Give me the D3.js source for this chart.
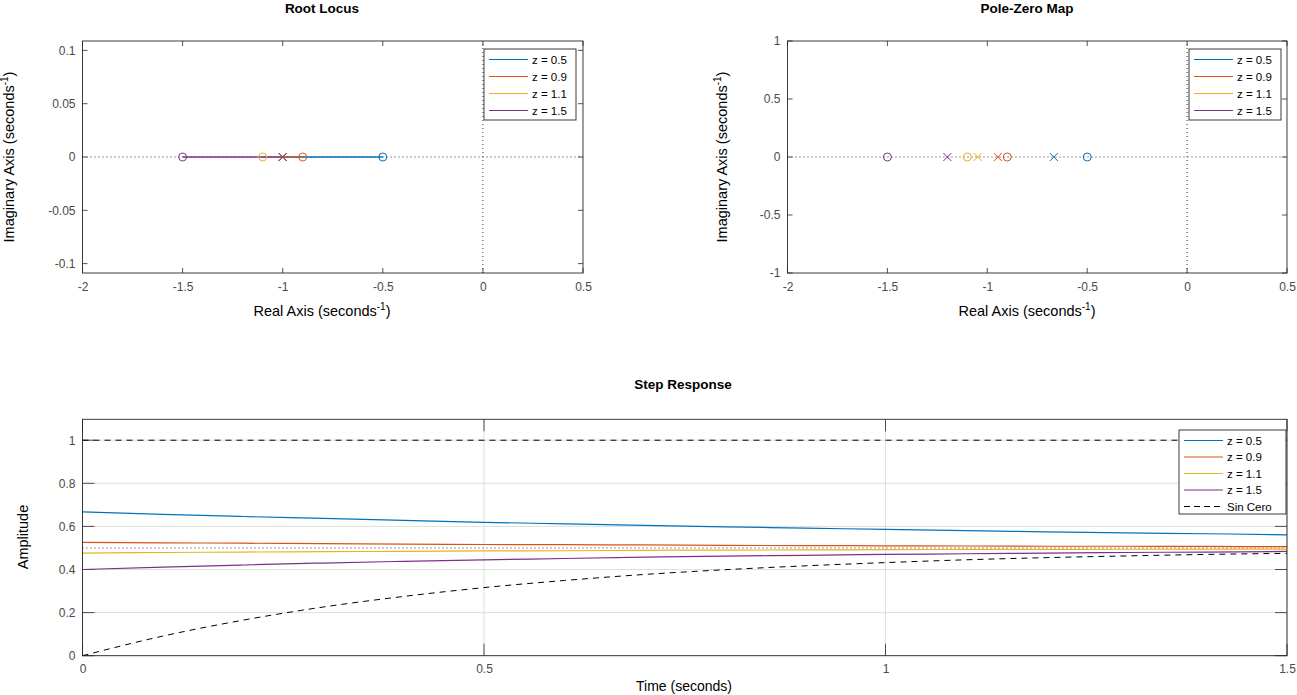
<!DOCTYPE html>
<html>
<head>
<meta charset="utf-8">
<script src="https://cdn.jsdelivr.net/npm/d3@7"></script>
<style>
body{margin:0;background:#fff;}
svg{display:block;font-family:"Liberation Sans",Arial,Helvetica,sans-serif;}
</style>
</head>
<body>
<svg id="c" width="1297" height="695"></svg>
<script>
// ---------------- DATA ----------------
const seriesNames = ["z = 0.5","z = 0.9","z = 1.1","z = 1.5"];
const colors = ["#0072BD","#D95319","#EDB120","#7E2F8E"];
const zeroLocs = [-0.5,-0.9,-1.1,-1.5];             // zeros (circles)
const rlPole = -1;                                    // open-loop pole (root locus x)
const clPoles = [-0.667,-0.947,-1.048,-1.2];          // closed-loop poles (pole-zero map x)
const rlXTicks = [-2,-1.5,-1,-0.5,0,0.5];
const rlYTicks = [-0.1,-0.05,0,0.05,0.1];
const pzYTicks = [-1,-0.5,0,0.5,1];
const stepXTicks = [0,0.5,1,1.5];
const stepYTicks = [0,0.2,0.4,0.6,0.8,1];
const tVals = [0,0.1,0.2,0.3,0.4,0.5,0.6,0.7,0.8,0.9,1.0,1.1,1.2,1.3,1.4,1.5];
const step05 = [0.667,0.656,0.646,0.637,0.628,0.619,0.612,0.605,0.598,0.592,0.586,0.580,0.575,0.570,0.566,0.561];
const step09 = [0.526,0.524,0.522,0.520,0.518,0.516,0.515,0.514,0.512,0.511,0.510,0.509,0.508,0.508,0.507,0.506];
const step11 = [0.476,0.479,0.481,0.483,0.484,0.486,0.487,0.489,0.490,0.491,0.492,0.493,0.493,0.494,0.495,0.495];
const step15 = [0.400,0.411,0.421,0.430,0.438,0.445,0.451,0.457,0.462,0.466,0.470,0.473,0.476,0.479,0.481,0.484];
const stepSinCero = [0,0.091,0.165,0.226,0.275,0.316,0.349,0.377,0.399,0.417,0.432,0.445,0.455,0.463,0.470,0.475];
const steadyState = 0.5;
const refLevel = 1;

// ---------------- HELPERS ----------------
const svg = d3.select("#c");
const tickColor = "#262626";
const labelFill = "#4a4a4a";

function fmt(v){ return String(+v.toFixed(3)); }

function axesFrame(g, x, y, xt, yt, tl, grid){
  const [x0,x1] = x.range(), [y1,y0] = y.range();
  if(grid){
    g.append("g").selectAll("line").data(xt).join("line")
      .attr("x1",d=>x(d)).attr("x2",d=>x(d)).attr("y1",y0).attr("y2",y1)
      .attr("stroke","#dfdfdf").attr("stroke-width",1);
    g.append("g").selectAll("line").data(yt).join("line")
      .attr("y1",d=>y(d)).attr("y2",d=>y(d)).attr("x1",x0).attr("x2",x1)
      .attr("stroke","#dfdfdf").attr("stroke-width",1);
  }
  const ax = d3.axisBottom(x).tickValues(xt).tickSize(0).tickPadding(9).tickFormat(fmt);
  const ay = d3.axisLeft(y).tickValues(yt).tickSize(0).tickPadding(7).tickFormat(fmt);
  const gx = g.append("g").attr("transform",`translate(0,${y1})`).call(ax);
  const gy = g.append("g").attr("transform",`translate(${x0},0)`).call(ay);
  [gx,gy].forEach(a=>{
    a.select(".domain").remove();
    a.selectAll("text").attr("fill",labelFill).style("font-size","12px").style("font-family","'Liberation Sans',Arial,sans-serif");
  });
  const tk = g.append("g").attr("stroke",tickColor).attr("stroke-width",0.8);
  xt.forEach(v=>{
    tk.append("line").attr("x1",x(v)).attr("x2",x(v)).attr("y1",y1).attr("y2",y1-tl);
    tk.append("line").attr("x1",x(v)).attr("x2",x(v)).attr("y1",y0).attr("y2",y0+tl);
  });
  yt.forEach(v=>{
    tk.append("line").attr("y1",y(v)).attr("y2",y(v)).attr("x1",x0).attr("x2",x0+tl);
    tk.append("line").attr("y1",y(v)).attr("y2",y(v)).attr("x1",x1).attr("x2",x1-tl);
  });
}
function frameBox(g,x,y){
  const [x0,x1] = x.range(), [y1,y0] = y.range();
  g.append("rect").attr("x",x0).attr("y",y0).attr("width",x1-x0).attr("height",y1-y0)
    .attr("fill","none").attr("stroke","#262626").attr("stroke-width",0.9);
}
function title(t,x,y){
  svg.append("text").attr("x",x).attr("y",y).attr("text-anchor","middle")
    .style("font-size","13.5px").style("font-weight","bold").attr("fill","#000").text(t);
}
function xlabelSup(x,y){
  const t = svg.append("text").attr("x",x).attr("y",y).attr("text-anchor","middle")
    .style("font-size","14.5px").attr("fill","#000");
  t.append("tspan").text("Real Axis (seconds");
  t.append("tspan").attr("dy",-6).style("font-size","10px").text("-1");
  t.append("tspan").attr("dy",6).text(")");
}
function ylabelSup(x,y){
  const t = svg.append("text").attr("transform",`translate(${x},${y}) rotate(-90)`).attr("text-anchor","middle")
    .style("font-size","14.5px").attr("fill","#000");
  t.append("tspan").text("Imaginary Axis (seconds");
  t.append("tspan").attr("dy",-6).style("font-size","10px").text("-1");
  t.append("tspan").attr("dy",6).text(")");
}
function legend(g, x0, y0, w, h, items, rowH){
  g.append("rect").attr("x",x0).attr("y",y0).attr("width",w).attr("height",h)
    .attr("fill","#fff").attr("stroke","#262626").attr("stroke-width",0.9);
  items.forEach((it,i)=>{
    const yy = y0 + 10.5 + i*rowH;
    g.append("line").attr("x1",x0+5).attr("x2",x0+44).attr("y1",yy).attr("y2",yy)
      .attr("stroke",it.c).attr("stroke-width",1).attr("stroke-dasharray",it.dash||null);
    g.append("text").attr("x",x0+48).attr("y",yy+4).style("font-size","11.5px").attr("fill","#000").text(it.n);
  });
}
function circle(g,cx,cy,c){ g.append("circle").attr("cx",cx).attr("cy",cy).attr("r",4).attr("fill","none").attr("stroke",c).attr("stroke-width",1); }
function cross(g,cx,cy,c){
  const s=4;
  g.append("path").attr("d",`M${cx-s},${cy-s}L${cx+s},${cy+s}M${cx-s},${cy+s}L${cx+s},${cy-s}`)
    .attr("stroke",c).attr("stroke-width",1).attr("fill","none");
}

// ---------------- ROOT LOCUS ----------------
{
  const x = d3.scaleLinear().domain([-2,0.5]).range([82.5,583]);
  const y = d3.scaleLinear().domain([-0.1088,0.1088]).range([273,41]);
  const g = svg.append("g");
  axesFrame(g,x,y,rlXTicks,rlYTicks,5,false);
  g.append("line").attr("x1",x(-2)).attr("x2",x(0.5)).attr("y1",y(0)).attr("y2",y(0))
    .attr("stroke","#333").attr("stroke-dasharray","1,3");
  g.append("line").attr("x1",x(0)).attr("x2",x(0)).attr("y1",y(-0.1088)).attr("y2",y(0.1088))
    .attr("stroke","#333").attr("stroke-dasharray","1,3");
  zeroLocs.forEach((z,i)=>{
    g.append("line").attr("x1",x(rlPole)).attr("x2",x(z)).attr("y1",y(0)).attr("y2",y(0))
      .attr("stroke",colors[i]).attr("stroke-width",1.3);
  });
  zeroLocs.forEach((z,i)=>{ cross(g,x(rlPole),y(0),colors[i]); circle(g,x(z),y(0),colors[i]); });
  frameBox(g,x,y);
  legend(g,484,49,92,71,seriesNames.map((n,i)=>({n,c:colors[i]})),17);
  title("Root Locus",322,13);
  xlabelSup(322,316);
  ylabelSup(14,157);
}

// ---------------- POLE-ZERO MAP ----------------
{
  const x = d3.scaleLinear().domain([-2,0.5]).range([787.5,1287]);
  const y = d3.scaleLinear().domain([-1,1]).range([273,41]);
  const g = svg.append("g");
  axesFrame(g,x,y,rlXTicks,pzYTicks,5,false);
  g.append("line").attr("x1",x(-2)).attr("x2",x(0.5)).attr("y1",y(0)).attr("y2",y(0))
    .attr("stroke","#333").attr("stroke-dasharray","1,3");
  g.append("line").attr("x1",x(0)).attr("x2",x(0)).attr("y1",y(-1)).attr("y2",y(1))
    .attr("stroke","#333").attr("stroke-dasharray","1,3");
  zeroLocs.forEach((z,i)=>{ cross(g,x(clPoles[i]),y(0),colors[i]); circle(g,x(z),y(0),colors[i]); });
  frameBox(g,x,y);
  legend(g,1189,49,92,71,seriesNames.map((n,i)=>({n,c:colors[i]})),17);
  title("Pole-Zero Map",1027,13);
  xlabelSup(1027,316);
  ylabelSup(727,157);
}

// ---------------- STEP RESPONSE ----------------
{
  const x = d3.scaleLinear().domain([0,1.5]).range([82.5,1287]);
  const y = d3.scaleLinear().domain([0,1.097]).range([655.7,419.3]);
  const g = svg.append("g");
  axesFrame(g,x,y,stepXTicks,stepYTicks,12,true);
  const line = d3.line().x(d=>x(d[0])).y(d=>y(d[1])).curve(d3.curveMonotoneX);
  g.append("line").attr("x1",x(0)).attr("x2",x(1.5)).attr("y1",y(refLevel)).attr("y2",y(refLevel))
    .attr("stroke","#000").attr("stroke-dasharray","6,5").attr("stroke-width",1);
  g.append("line").attr("x1",x(0)).attr("x2",x(1.5)).attr("y1",y(steadyState)).attr("y2",y(steadyState))
    .attr("stroke","#333").attr("stroke-dasharray","1,3").attr("stroke-width",1);
  const sets = [step05,step09,step11,step15];
  sets.forEach((s,i)=>{
    g.append("path").attr("d",line(tVals.map((t,k)=>[t,s[k]]))).attr("fill","none")
      .attr("stroke",colors[i]).attr("stroke-width",1.2);
  });
  g.append("path").attr("d",line(tVals.map((t,k)=>[t,stepSinCero[k]]))).attr("fill","none")
    .attr("stroke","#000").attr("stroke-width",1).attr("stroke-dasharray","6,5");
  frameBox(g,x,y);
  legend(g,1179,430,107,84,
    seriesNames.map((n,i)=>({n,c:colors[i]})).concat([{n:"Sin Cero",c:"#000",dash:"6,4"}]),16.5);
  title("Step Response",683,389);
  svg.append("text").attr("x",684).attr("y",691).attr("text-anchor","middle")
    .style("font-size","14px").attr("fill","#000").text("Time (seconds)");
  svg.append("text").attr("transform","translate(28,537) rotate(-90)").attr("text-anchor","middle")
    .style("font-size","14.5px").attr("fill","#000").text("Amplitude");
}
</script>
</body>
</html>
